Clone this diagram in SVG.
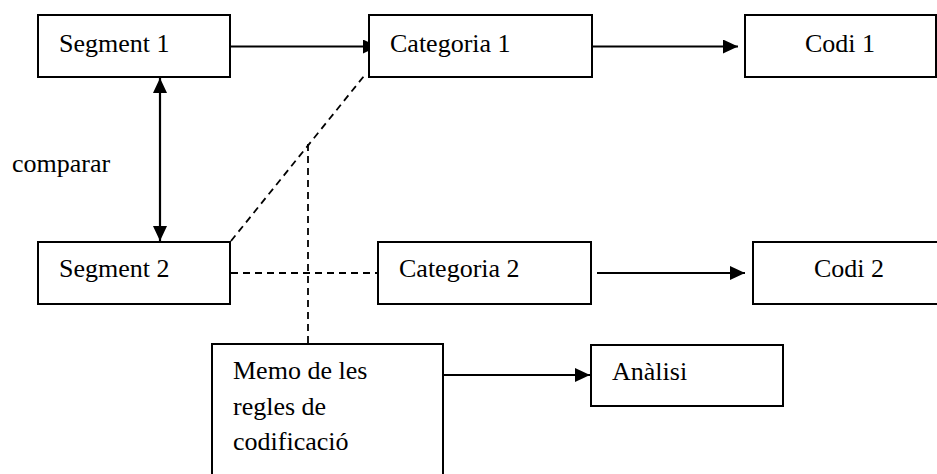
<svg xmlns="http://www.w3.org/2000/svg" width="937" height="474" viewBox="0 0 937 474">
  <style>
    .box { fill: #ffffff; stroke: #000000; stroke-width: 2; }
    .solid { fill: none; stroke: #000000; stroke-width: 2.2; }
    .dash { fill: none; stroke: #000000; stroke-width: 1.8; stroke-dasharray: 7 5; }
    text { font-family: "Liberation Serif", "Times New Roman", serif; font-size: 26px; fill: #000000; }
  </style>
  <defs>
    <!-- filled triangular arrowhead shared by all solid connectors -->
    <marker id="head" viewBox="0 0 15 14" refX="15" refY="7" markerWidth="15" markerHeight="14" markerUnits="userSpaceOnUse" orient="auto-start-reverse">
      <path d="M0,0 L15,7 L0,14 Z" fill="#000000"/>
    </marker>
  </defs>

  <rect width="937" height="474" fill="#ffffff"/>

  <!-- connectors -->
  <g id="connectors">
    <line class="solid" x1="230" y1="46.5" x2="378" y2="46.5" marker-end="url(#head)"/>
    <line class="solid" x1="592" y1="46.5" x2="738" y2="46.5" marker-end="url(#head)"/>
    <line class="solid" x1="160" y1="78" x2="160" y2="241" marker-start="url(#head)" marker-end="url(#head)"/>
    <line class="solid" x1="597" y1="273" x2="745" y2="273" marker-end="url(#head)"/>
    <line class="solid" x1="443" y1="375" x2="590" y2="375" marker-end="url(#head)"/>
    <line class="dash" x1="231" y1="241" x2="364" y2="76"/>
    <line class="dash" x1="231" y1="273" x2="378" y2="273"/>
    <line class="dash" x1="308" y1="144" x2="308" y2="344"/>
  </g>

  <text x="12" y="172">comparar</text>

  <g id="segment1">
    <rect class="box" x="38" y="15" width="192" height="62"/>
    <text x="59" y="52">Segment 1</text>
  </g>
  <g id="categoria1">
    <rect class="box" x="369" y="15" width="223" height="62"/>
    <text x="390" y="52">Categoria 1</text>
  </g>
  <g id="codi1">
    <rect class="box" x="745" y="15" width="191" height="62"/>
    <text x="840" y="52" text-anchor="middle">Codi 1</text>
  </g>
  <g id="segment2">
    <rect class="box" x="38" y="242" width="192" height="62"/>
    <text x="59" y="277">Segment 2</text>
  </g>
  <g id="categoria2">
    <rect class="box" x="378" y="242" width="213" height="62"/>
    <text x="399" y="277">Categoria 2</text>
  </g>
  <g id="codi2">
    <rect class="box" x="753" y="242" width="190" height="62"/>
    <text x="849" y="277" text-anchor="middle">Codi 2</text>
  </g>
  <g id="memo">
    <rect class="box" x="212" y="344" width="231" height="140"/>
    <text x="233" y="379">Memo de les</text>
    <text x="233" y="415">regles de</text>
    <text x="233" y="450">codificació</text>
  </g>
  <g id="analisi">
    <rect class="box" x="591" y="345" width="192" height="61"/>
    <text x="612" y="380">Anàlisi</text>
  </g>
</svg>
